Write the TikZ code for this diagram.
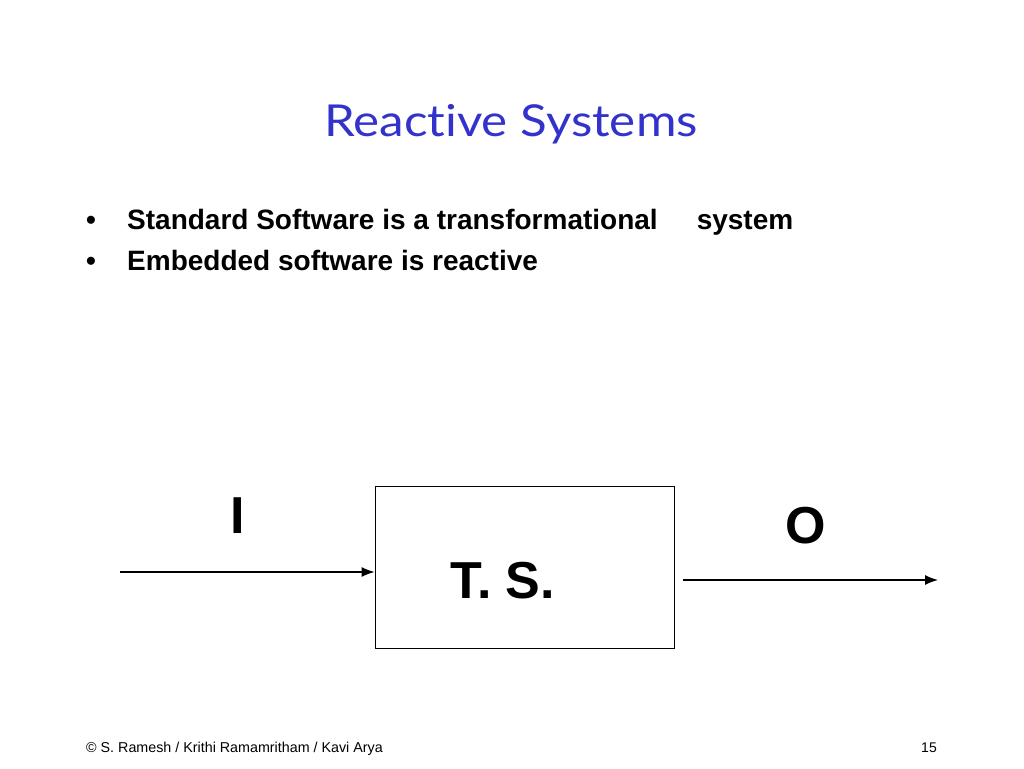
\documentclass[tikz,border=0pt]{standalone}
\usepackage{fontspec}
\setmainfont{Liberation Sans}
\newfontfamily\titlefont[FakeStretch=1.12,Ligatures=NoCommon]{Lato}
\usetikzlibrary{arrows.meta}
\definecolor{titleblue}{RGB}{51,51,204}
\tikzset{
  bul/.style={anchor=base west, font=\bfseries\fontsize{28}{30}\selectfont, inner sep=0},
  big/.style={anchor=base, font=\bfseries\fontsize{52}{54}\selectfont, inner sep=0},
  foot/.style={anchor=base west, font=\fontsize{14.3}{16}\selectfont, inner sep=0},
  conn/.style={draw, line width=1.3pt, -{Latex[length=13pt,width=10pt]}}
}
\begin{document}
\begin{tikzpicture}[x=1pt,y=-1pt]
\useasboundingbox[fill=white] (0,0) rectangle (1024,768);
\node[anchor=base, font=\titlefont\fontsize{44}{46}\selectfont, text=titleblue, inner sep=0] (title) at (511,136) {Reactive Systems};
\node[bul] (b1) at (86,229) {\textbullet};
\node[bul] (t1) at (127,229) {Standard Software is a transformational\hspace{39pt}system};
\node[bul] (b2) at (86,270) {\textbullet};
\node[bul] (t2) at (127,270) {Embedded software is reactive};
\node[draw, line width=0.8pt, minimum width=299pt, minimum height=162pt, inner sep=0] (ts) at (524.5,567) {};
\node[big] (tslabel) at (503,598) {T. S.};
\node[big] (ilabel) at (238,533) {I};
\node[big] (olabel) at (806,543) {O};
\coordinate (inL) at (120,572);
\coordinate (outA) at (683,580);
\coordinate (outB) at (938,580);
\draw[conn] (inL) -- (ts.west |- inL);
\draw[conn] (outA) -- (outB);
\node[foot] (foot) at (86,752) {\textcopyright\ S. Ramesh / Krithi Ramamritham / Kavi Arya};
\node[anchor=base east, font=\fontsize{14}{16}\selectfont, inner sep=0] (page) at (937,752) {15};
\end{tikzpicture}
\end{document}
